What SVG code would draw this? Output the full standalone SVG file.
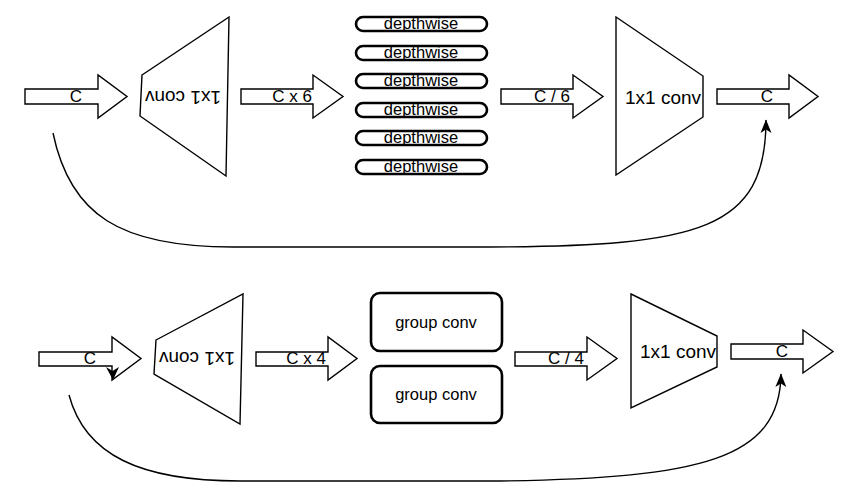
<svg xmlns="http://www.w3.org/2000/svg" width="864" height="497" viewBox="0 0 864 497">
<style>
.shape{fill:#fff;stroke:#000;stroke-width:1.4}
.box{fill:#fff;stroke:#000;stroke-width:2.6}
.lbl{font-family:"Liberation Sans",Arial,sans-serif;font-size:17px;fill:#000;text-anchor:middle;dominant-baseline:central}
.big{font-size:19px}
.dw{font-size:16.5px}
.gc{font-size:16.5px}
.edge{fill:none;stroke:#000;stroke-width:1.4}
</style>
<defs>
<marker id="ah" viewBox="0 0 14 12" refX="13" refY="6" markerWidth="14" markerHeight="12" markerUnits="userSpaceOnUse" orient="auto">
<path d="M0,0.5 L13.5,6 L0,11.5 L3.5,6 Z" fill="#000"/>
</marker>
</defs>
<rect width="864" height="497" fill="#fff"/>

<g id="top-in">
<polygon class="shape" points="25,89 98,89 98,75 127,96.5 98,118 98,104 25,104"/>
<text class="lbl" x="76" y="96">C</text>
</g>
<g id="top-conv1">
<polygon class="shape" points="142,75 229,17 226,176 140,116"/>
<text class="lbl big" x="183" y="97" transform="rotate(180 183 97)">1x1 conv</text>
</g>
<g id="top-cx6">
<polygon class="shape" points="241,89 313,89 313,75 343,96.5 313,118 313,104 241,104"/>
<text class="lbl" x="292" y="96">C x 6</text>
</g>
<g id="dw1"><rect class="box" x="356" y="17" width="131" height="14" rx="7"/><text class="lbl dw" x="421" y="23">depthwise</text></g>
<g id="dw2"><rect class="box" x="356" y="46" width="131" height="14" rx="7"/><text class="lbl dw" x="421" y="52">depthwise</text></g>
<g id="dw3"><rect class="box" x="356" y="74" width="131" height="14" rx="7"/><text class="lbl dw" x="421" y="80">depthwise</text></g>
<g id="dw4"><rect class="box" x="356" y="103" width="131" height="14" rx="7"/><text class="lbl dw" x="421" y="109">depthwise</text></g>
<g id="dw5"><rect class="box" x="356" y="131" width="131" height="14" rx="7"/><text class="lbl dw" x="421" y="137">depthwise</text></g>
<g id="dw6"><rect class="box" x="356" y="160" width="131" height="14" rx="7"/><text class="lbl dw" x="421" y="166">depthwise</text></g>
<g id="top-cdiv6">
<polygon class="shape" points="501,89 573,89 573,75 603,96.5 573,118 573,104 501,104"/>
<text class="lbl" x="552" y="96">C / 6</text>
</g>
<g id="top-conv2">
<polygon class="shape" points="616,17 703,76 703,117 616,175"/>
<text class="lbl big" x="663" y="97">1x1 conv</text>
</g>
<g id="top-out">
<polygon class="shape" points="717,89 789,89 789,75 818,96.5 789,118 789,104 717,104"/>
<text class="lbl" x="767" y="96">C</text>
</g>

<g id="bot-in">
<polygon class="shape" points="39,352 112,352 112,337 141,358.5 112,380 112,366 39,366"/>
<text class="lbl" x="90" y="358">C</text>
</g>
<g id="bot-conv1">
<polygon class="shape" points="156,340 243,294 240,424 154,374"/>
<text class="lbl big" x="197" y="358" transform="rotate(180 197 358)">1x1 conv</text>
</g>
<g id="bot-cx4">
<polygon class="shape" points="256,352 328,352 328,337 357,358.5 328,380 328,366 256,366"/>
<text class="lbl" x="306" y="358">C x 4</text>
</g>
<g id="gc1"><rect class="box" x="371" y="293" width="131" height="58" rx="9"/><text class="lbl gc" x="436" y="322">group conv</text></g>
<g id="gc2"><rect class="box" x="371" y="366" width="131" height="57" rx="9"/><text class="lbl gc" x="436" y="394">group conv</text></g>
<g id="bot-cdiv4">
<polygon class="shape" points="515,352 587,352 587,337 617,358.5 587,380 587,366 515,366"/>
<text class="lbl" x="566" y="358">C / 4</text>
</g>
<g id="bot-conv2">
<polygon class="shape" points="631,294 717,336 717,367 631,408"/>
<text class="lbl big" x="678" y="351">1x1 conv</text>
</g>
<g id="bot-out">
<polygon class="shape" points="731,344 803,344 803,330 833,351.5 803,373 803,359 731,359"/>
<text class="lbl" x="782" y="351">C</text>
</g>

<g id="connectors">
<path class="edge" d="M53,133 C70,215 120,247 233,247 L490,247 C700,246 766,230 766,120" marker-end="url(#ah)"/>
<path class="edge" d="M69,395 C85,455 140,481 240,481 L500,481 C700,478 780,460 781,374" marker-end="url(#ah)"/>
<path d="M106,367 L112.5,371 L119,367 L113,380 Z" fill="#000"/>
</g>
</svg>
